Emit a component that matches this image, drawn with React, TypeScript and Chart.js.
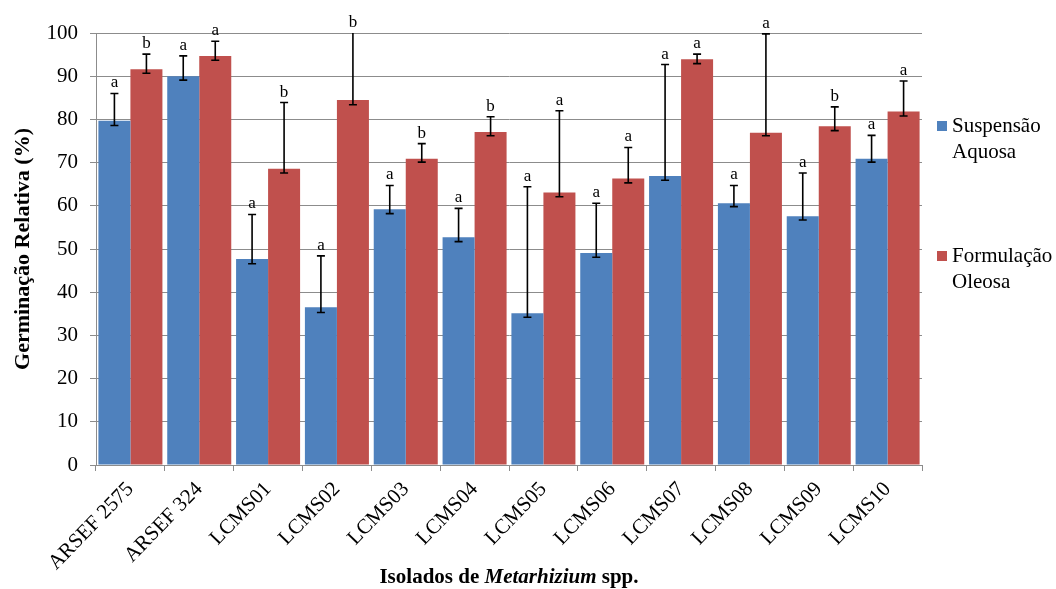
import React, { useEffect, useRef } from "react";
import { Chart, registerables } from "chart.js";

Chart.register(...registerables);

const categories = [
  "ARSEF 2575",
  "ARSEF 324",
  "LCMS01",
  "LCMS02",
  "LCMS03",
  "LCMS04",
  "LCMS05",
  "LCMS06",
  "LCMS07",
  "LCMS08",
  "LCMS09",
  "LCMS10",
];

const suspensaoAquosa = [79.7, 90.0, 47.7, 36.5, 59.2, 52.7, 35.1, 49.1, 66.9, 60.6, 57.6, 70.9];
const suspensaoErrLow = [78.6, 89.1, 46.6, 35.3, 58.2, 51.7, 34.2, 48.1, 65.9, 59.8, 56.7, 70.1];
const suspensaoErrHigh = [86.0, 94.7, 58.0, 48.4, 64.7, 59.4, 64.4, 60.6, 92.7, 64.7, 67.6, 76.3];
const suspensaoLetters = ["a", "a", "a", "a", "a", "a", "a", "a", "a", "a", "a", "a"];

const formulacaoOleosa = [91.6, 94.7, 68.6, 84.5, 70.9, 77.1, 63.1, 66.3, 93.9, 76.9, 78.4, 81.8];
const formulacaoErrLow = [90.7, 93.7, 67.6, 83.4, 70.1, 76.2, 62.1, 65.3, 92.9, 76.2, 77.4, 80.8];
const formulacaoErrHigh = [95.1, 98.1, 83.9, 104.0, 74.4, 80.6, 82.0, 73.5, 95.1, 99.8, 82.9, 88.9];
const formulacaoLetters = ["b", "a", "b", "b", "b", "b", "a", "a", "a", "a", "b", "a"];

const seriesNames = [["Suspensão", "Aquosa"], ["Formulação", "Oleosa"]];
const yAxisTitle = "Germinação Relativa (%)";
const xTitleParts = ["Isolados de ", "Metarhizium", " spp."];
const yMin = 0;
const yMax = 100;
const yStep = 10;

const BLUE = "#4F81BD";
const RED = "#C0504D";
const SERIF = "'Liberation Serif', 'Times New Roman', serif";

const errorBarsPlugin = {
  id: "errorBarsLetters",
  afterDatasetsDraw(chart: any) {
    const { ctx, chartArea } = chart;
    const yScale = chart.scales.y;
    const lows = [suspensaoErrLow, formulacaoErrLow];
    const highs = [suspensaoErrHigh, formulacaoErrHigh];
    const letters = [suspensaoLetters, formulacaoLetters];
    chart.data.datasets.forEach((_ds: any, di: number) => {
      const meta = chart.getDatasetMeta(di);
      meta.data.forEach((el: any, i: number) => {
        const x = el.x;
        const yLo = yScale.getPixelForValue(lows[di][i]);
        const yHi = yScale.getPixelForValue(highs[di][i]);
        ctx.save();
        ctx.beginPath();
        ctx.rect(chartArea.left, chartArea.top, chartArea.right - chartArea.left, chartArea.bottom - chartArea.top);
        ctx.clip();
        ctx.strokeStyle = "#000";
        ctx.lineWidth = 1.6;
        ctx.beginPath();
        ctx.moveTo(x, yLo);
        ctx.lineTo(x, yHi);
        ctx.moveTo(x - 4, yLo);
        ctx.lineTo(x + 4, yLo);
        ctx.moveTo(x - 4, yHi);
        ctx.lineTo(x + 4, yHi);
        ctx.stroke();
        ctx.restore();

        ctx.save();
        ctx.fillStyle = "#000";
        ctx.font = `17px ${SERIF}`;
        ctx.textAlign = "center";
        ctx.textBaseline = "alphabetic";
        const top = Math.max(yHi, chartArea.top);
        ctx.fillText(letters[di][i], x, top - 6);
        ctx.restore();
      });
    });
  },
  afterDraw(chart: any) {
    const { ctx, chartArea } = chart;
    // x-axis title with italic genus
    ctx.save();
    ctx.fillStyle = "#000";
    ctx.textBaseline = "middle";
    const fonts = [`bold 21px ${SERIF}`, `italic bold 21px ${SERIF}`, `bold 21px ${SERIF}`];
    let total = 0;
    const widths = xTitleParts.map((t, k) => {
      ctx.font = fonts[k];
      const w = ctx.measureText(t).width;
      total += w;
      return w;
    });
    let x = (chartArea.left + chartArea.right) / 2 - total / 2;
    const y = 578;
    xTitleParts.forEach((t, k) => {
      ctx.font = fonts[k];
      ctx.textAlign = "left";
      ctx.fillText(t, x, y);
      x += widths[k];
    });
    ctx.restore();

    // legend
    const colors = [BLUE, RED];
    const legendY = [126, 256];
    seriesNames.forEach((lines, k) => {
      ctx.save();
      ctx.fillStyle = colors[k];
      ctx.fillRect(937, legendY[k] - 5, 10, 10);
      lines.forEach((line, li) => {
        ctx.font = `normal 400 21px ${SERIF}`;
        ctx.textBaseline = "middle";
        ctx.textAlign = "left";
        ctx.fillStyle = "#000";
        ctx.fillText(line, 952, legendY[k] + li * 26);
      });
      ctx.restore();
    });
  },
};

export default function App() {
  const canvasRef = useRef<HTMLCanvasElement | null>(null);

  useEffect(() => {
    if (!canvasRef.current) return;
    const chart = new Chart(canvasRef.current, {
      type: "bar",
      data: {
        labels: categories,
        datasets: [
          {
            label: seriesNames[0].join(" "),
            data: suspensaoAquosa,
            backgroundColor: BLUE,
            categoryPercentage: 0.93,
            barPercentage: 1.0,
          },
          {
            label: seriesNames[1].join(" "),
            data: formulacaoOleosa,
            backgroundColor: RED,
            categoryPercentage: 0.93,
            barPercentage: 1.0,
          },
        ],
      },
      options: {
        responsive: false,
        animation: false,
        layout: { padding: { top: 33, right: 134, left: 0, bottom: 0 } },
        plugins: {
          legend: { display: false },
          tooltip: { enabled: false },
        },
        scales: {
          x: {
            grid: {
              display: true,
              drawOnChartArea: false,
              drawTicks: true,
              tickLength: 6,
              color: "#8c8c8c",
              offset: true,
            },
            border: { color: "#8c8c8c" },
            ticks: {
              minRotation: 46,
              maxRotation: 46,
              autoSkip: false,
              padding: 6,
              color: "#000",
              font: { family: SERIF, size: 21 },
            },
            afterFit(scale: any) {
              scale.height = 124;
            },
          },
          y: {
            min: yMin,
            max: yMax,
            ticks: {
              stepSize: yStep,
              padding: 12,
              color: "#000",
              font: { family: SERIF, size: 21 },
            },
            grid: { color: "#8c8c8c", tickLength: 6 },
            border: { color: "#8c8c8c" },
            title: {
              display: true,
              text: yAxisTitle,
              color: "#000",
              font: { family: SERIF, size: 22, weight: "bold" },
              padding: { top: 10, bottom: 0 },
            },
            afterFit(scale: any) {
              scale.width = 96;
            },
          },
        },
      },
      plugins: [errorBarsPlugin],
    });
    return () => chart.destroy();
  }, []);

  return (
    <div style={{ position: "absolute", left: 0, top: 0, width: 1056, height: 589, background: "#fff" }}>
      <canvas ref={canvasRef} width={1056} height={589} style={{ display: "block" }} />
    </div>
  );
}
